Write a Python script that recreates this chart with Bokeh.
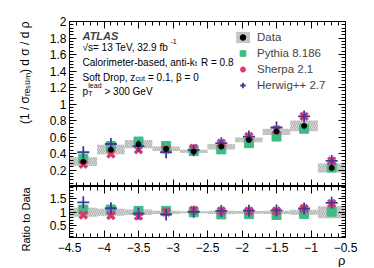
import math
from bokeh.plotting import figure
from bokeh.models import (Range1d, FixedTicker, LinearAxis, Label, Legend,
                          LegendItem, ColumnDataSource, Title, AllLabels,
                          PrintfTickFormatter)
from bokeh.layouts import column
from bokeh.embed import file_html
from bokeh.resources import INLINE

# ---------------- data ----------------
bin_edges = [-4.5, -4.1, -3.7, -3.3, -2.9, -2.5, -2.1, -1.7, -1.3, -0.9, -0.5]
rho = [-4.3, -3.9, -3.5, -3.1, -2.7, -2.3, -1.9, -1.5, -1.1, -0.7]

data_val = [0.300, 0.445, 0.513, 0.456, 0.423, 0.484, 0.565, 0.666, 0.735, 0.225]
data_lo = [0.250, 0.390, 0.465, 0.430, 0.405, 0.450, 0.535, 0.625, 0.670, 0.170]
data_hi = [0.355, 0.505, 0.565, 0.485, 0.445, 0.515, 0.595, 0.700, 0.800, 0.280]
pythia = [0.335, 0.490, 0.545, 0.490, 0.430, 0.450, 0.525, 0.605, 0.700, 0.230]
sherpa = [0.270, 0.395, 0.445, 0.450, 0.465, 0.525, 0.605, 0.687, 0.850, 0.310]
herwig = [0.415, 0.515, 0.490, 0.415, 0.440, 0.525, 0.605, 0.715, 0.850, 0.310]

ratio_lo = [0.83, 0.87, 0.90, 0.94, 0.96, 0.94, 0.95, 0.94, 0.91, 0.78]
ratio_hi = [1.17, 1.13, 1.10, 1.06, 1.04, 1.06, 1.05, 1.06, 1.09, 1.22]
pythia_r = [1.10, 1.10, 1.05, 1.05, 1.00, 0.92, 0.93, 0.90, 0.94, 1.02]
sherpa_r = [0.90, 0.88, 0.86, 1.00, 1.08, 1.05, 1.05, 1.05, 1.14, 1.33]
herwig_r = [1.37, 1.15, 0.95, 0.92, 1.02, 1.05, 1.06, 1.07, 1.14, 1.35]

x_ticks = [-4.5, -4.0, -3.5, -3.0, -2.5, -2.0, -1.5, -1.0, -0.5]
x_tick_labels = ["\u22124.5", "\u22124", "\u22123.5", "\u22123", "\u22122.5",
                 "\u22122", "\u22121.5", "\u22121", "\u22120.5"]
y_ticks_top = [0.2, 0.4, 0.6, 0.8, 1.0, 1.2, 1.4, 1.6, 1.8, 2.0]
y_ticks_ratio = [0.5, 1.0, 1.5]

series_names = ["Data", "Pythia 8.186", "Sherpa 2.1", "Herwig++ 2.7"]

# ---------------- style ----------------
FONT = "Liberation Sans"
GREEN = "#3dbd82"
PINK = "#d93a6e"
BLUE = "#3c3c9c"
BOXFILL = "#d4d4d4"
HATCH = "#9c9c9c"

OFF = 1                    # page offset of the layout
X_MIN, X_MAX = -4.5, -0.5
FL, FR = 69, 345           # frame left/right (page px)
TOP_T, TOP_B = 22, 187     # top frame
BOT_T, BOT_B = 187, 238    # ratio frame
YR_TOP = (0.0, 2.0)
YR_BOT = (0.066, 1.955)

minor_x = [round(-4.5 + 0.1 * i, 3) for i in range(41)]
minor_y_top = [round(0.04 * i, 3) for i in range(51)]
minor_y_bot = [round(0.1 * i, 3) for i in range(1, 20)]


def px2x(px):
    return X_MIN + (px - FL) / (FR - FL) * (X_MAX - X_MIN)


def py2y_top(py):
    return YR_TOP[1] - (py - TOP_T) / (TOP_B - TOP_T) * (YR_TOP[1] - YR_TOP[0])


def style_axis(ax, ticks, minor, labels=None, standoff=3):
    ax.ticker = FixedTicker(ticks=ticks, minor_ticks=minor)
    ax.major_tick_in = 7
    ax.major_tick_out = 0
    ax.minor_tick_in = 4
    ax.minor_tick_out = 0
    ax.major_tick_line_color = "black"
    ax.minor_tick_line_color = "black"
    ax.axis_line_color = "black"
    ax.major_label_text_font = FONT
    ax.major_label_text_color = "black"
    ax.major_label_policy = AllLabels()
    if labels is not None:
        ax.major_label_text_font_size = "12px"
        ax.major_label_standoff = standoff
        if labels == "g":
            ax.formatter = PrintfTickFormatter(format="%g")
        else:
            ax.major_label_overrides = {t: s for t, s in zip(ticks, labels)}
    else:
        ax.major_label_text_font_size = "0px"
        ax.major_label_standoff = 0
        ax.major_label_overrides = {t: "" for t in ticks}
    ax.axis_label = None


def make_fig(frame_h, yr, bt, bb):
    p = figure(frame_width=FR - FL, frame_height=frame_h, output_backend="svg",
               toolbar_location=None,
               x_range=Range1d(X_MIN, X_MAX), y_range=Range1d(*yr),
               min_border_left=FL - OFF, min_border_right=14,
               min_border_top=bt, min_border_bottom=bb)
    p.xgrid.visible = False
    p.ygrid.visible = False
    p.outline_line_color = "black"
    p.background_fill_color = "white"
    p.border_fill_color = "white"
    return p


def add_label(p, xpx, ypx, text, size):
    # ypx is the vertical centre of the text on the page
    fs = float(size.replace("px", ""))
    p.add_layout(Label(x=px2x(xpx), y=py2y_top(ypx + 0.35 * fs), text=text,
                       text_font=FONT, text_font_size=size, text_color="black",
                       text_align="left", text_baseline="alphabetic"))


def make_title(text, align, size, standoff=0, offset=0, valign="bottom"):
    t = Title(text=text, align=align, text_font=FONT, text_font_size=size,
              text_font_style="normal", text_color="black", offset=offset,
              vertical_align=valign)
    if "standoff" in t.properties():
        t.standoff = standoff
    return t


# ---------------- top panel ----------------
p = make_fig(TOP_B - TOP_T, YR_TOP, TOP_T - OFF, 0)
style_axis(p.xaxis[0], x_ticks, minor_x)
style_axis(p.yaxis[0], y_ticks_top, minor_y_top, "g")
ax_r = LinearAxis()
style_axis(ax_r, y_ticks_top, minor_y_top)
p.add_layout(ax_r, "right")
ax_t = LinearAxis()
style_axis(ax_t, x_ticks, minor_x)
p.add_layout(ax_t, "above")

src = ColumnDataSource(dict(left=bin_edges[:-1], right=bin_edges[1:], x=rho,
                            data=data_val, lo=data_lo, hi=data_hi,
                            py=pythia, sh=sherpa, hw=herwig))
r_box = p.quad(left="left", right="right", bottom="lo", top="hi", source=src,
               fill_color=BOXFILL, line_color=None, hatch_pattern="/",
               hatch_color=HATCH, hatch_scale=4, hatch_weight=0.6)
r_py = p.scatter("x", "py", source=src, marker="square", size=9,
                 fill_color=GREEN, line_color=GREEN)
r_sh = p.scatter("x", "sh", source=src, marker="x", size=10, line_width=3.4,
                 line_color=PINK)
r_hw = p.scatter("x", "hw", source=src, marker="cross", size=12, line_width=1.8,
                 line_color=BLUE)
r_dt = p.scatter("x", "data", source=src, marker="circle", size=5,
                 fill_color="black", line_color="black")

legend = Legend(items=[
    LegendItem(label=series_names[0], renderers=[r_box, r_dt]),
    LegendItem(label=series_names[1], renderers=[r_py]),
    LegendItem(label=series_names[2], renderers=[r_sh]),
    LegendItem(label=series_names[3], renderers=[r_hw]),
], location=(165, 94), border_line_color=None, background_fill_alpha=0,
    padding=0, margin=0, spacing=2, glyph_width=17, glyph_height=14,
    label_height=14, label_standoff=6, label_text_font=FONT,
    label_text_font_size="11.5px", label_text_baseline="middle")
p.add_layout(legend)

# annotation texts (page px: left x, vertical centre y)
tx0 = 82
atl = Label(x=px2x(tx0), y=py2y_top(32 + 4), text="ATLAS", text_font=FONT,
            text_font_size="11px", text_font_style="bold italic",
            text_baseline="alphabetic")
p.add_layout(atl)
add_label(p, tx0, 44, "\u221as= 13 TeV, 32.9 fb", "10px")
add_label(p, tx0 + 88, 40, "-1", "7px")
add_label(p, tx0, 59, "Calorimeter-based, anti-k", "10px")
add_label(p, tx0 + 112.5, 62, "t", "7px")
add_label(p, tx0 + 118.5, 59, "R = 0.8", "10px")
add_label(p, tx0, 74, "Soft Drop, z", "10px")
add_label(p, tx0 + 53, 77, "cut", "7px")
add_label(p, tx0 + 65.5, 74, "= 0.1, \u03b2 = 0", "10px")
add_label(p, tx0, 88, "p", "10px")
add_label(p, tx0 + 5.8, 84, "lead", "7px")
add_label(p, tx0 + 5.8, 92, "T", "7px")
add_label(p, tx0 + 22, 88, "> 300 GeV", "10px")

p.add_layout(make_title("(1 / \u03c3\u1d63\u2091\u209b\u1d64\u2098) d \u03c3 / d \u03c1",
                        "right", "12px", standoff=30), "left")

# ---------------- ratio panel ----------------
q = make_fig(BOT_B - BOT_T, YR_BOT, 0, 268 - BOT_B - 1)
style_axis(q.xaxis[0], x_ticks, minor_x, x_tick_labels, standoff=5)
style_axis(q.yaxis[0], y_ticks_ratio, minor_y_bot, "g")
q_r = LinearAxis()
style_axis(q_r, y_ticks_ratio, minor_y_bot)
q.add_layout(q_r, "right")
q_t = LinearAxis()
style_axis(q_t, x_ticks, minor_x)
q.add_layout(q_t, "above")

rsrc = ColumnDataSource(dict(left=bin_edges[:-1], right=bin_edges[1:], x=rho,
                             lo=ratio_lo, hi=ratio_hi, py=pythia_r, sh=sherpa_r,
                             hw=herwig_r))
q.quad(left="left", right="right", bottom="lo", top="hi", source=rsrc,
       fill_color=BOXFILL, line_color=None, hatch_pattern="/",
       hatch_color=HATCH, hatch_scale=4, hatch_weight=0.6)
q.scatter("x", "py", source=rsrc, marker="square", size=9,
          fill_color=GREEN, line_color=GREEN)
q.scatter("x", "sh", source=rsrc, marker="x", size=10, line_width=3.4,
          line_color=PINK)
q.scatter("x", "hw", source=rsrc, marker="cross", size=12, line_width=1.8,
          line_color=BLUE)

q.add_layout(make_title("Ratio to Data", "left", "11px", standoff=30, offset=-14),
             "left")
q.add_layout(make_title("\u03c1", "right", "13px", standoff=-4, valign="top"),
             "below")

layout = column(p, q, spacing=0)
open("out.html", "w").write(file_html(layout, INLINE))
